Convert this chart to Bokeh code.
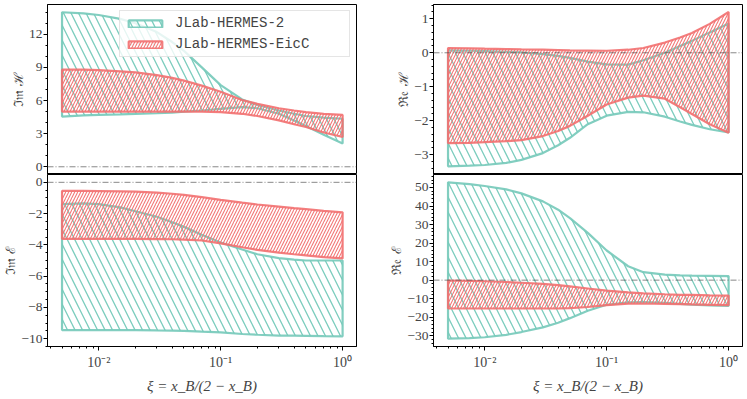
import numpy as np
from bokeh.plotting import figure
from bokeh.layouts import gridplot
from bokeh.models import Range1d, FixedTicker, Span, Legend, LegendItem
from bokeh.embed import file_html
from bokeh.resources import INLINE

# ---------------- data ----------------
xi = [0.005, 0.0075, 0.01, 0.015, 0.02, 0.03, 0.04, 0.05, 0.07, 0.1,
      0.15, 0.2, 0.3, 0.4, 0.5, 0.7, 1.0]

series_names = ["JLab-HERMES-2", "JLab-HERMES-EicC"]

# Im H
imH_h2_up = [14.0, 13.9, 13.75, 13.4, 13.0, 12.2, 11.3, 10.5, 9.0, 7.4,
             6.1, 5.6, 5.1, 4.8, 4.6, 4.45, 4.35]
imH_h2_lo = [4.55, 4.65, 4.7, 4.75, 4.8, 4.85, 4.9, 5.0, 5.1, 5.25,
             5.4, 5.3, 4.8, 4.2, 3.7, 2.9, 2.1]
imH_ec_up = [8.8, 8.8, 8.75, 8.65, 8.55, 8.3, 8.05, 7.8, 7.35, 6.8,
             6.05, 5.7, 5.3, 5.1, 4.95, 4.8, 4.7]
imH_ec_lo = [5.0, 5.0, 5.0, 5.0, 5.0, 5.0, 5.0, 5.0, 5.0, 4.95,
             4.8, 4.6, 4.2, 3.85, 3.6, 3.1, 2.7]

# Re H
reH_h2_up = [0.07, 0.06, 0.05, 0.03, 0.01, -0.04, -0.09, -0.15, -0.26, -0.34,
             -0.35, -0.22, 0.0, 0.2, 0.35, 0.6, 0.86]
reH_h2_lo = [-3.34, -3.32, -3.3, -3.24, -3.15, -2.95, -2.72, -2.5, -2.1, -1.85,
             -1.74, -1.75, -1.88, -2.02, -2.12, -2.25, -2.34]
reH_ec_up = [0.14, 0.13, 0.12, 0.11, 0.1, 0.09, 0.08, 0.07, 0.065, 0.06,
             0.09, 0.14, 0.3, 0.45, 0.58, 0.85, 1.2]
reH_ec_lo = [-2.66, -2.65, -2.63, -2.6, -2.57, -2.45, -2.3, -2.15, -1.85, -1.52,
             -1.32, -1.26, -1.35, -1.6, -1.8, -2.1, -2.35]

# Im E
imE_h2_up = [-1.4, -1.35, -1.4, -1.6, -1.85, -2.2, -2.55, -2.85, -3.35, -3.85,
             -4.3, -4.6, -4.85, -4.95, -5.0, -5.0, -5.0]
imE_h2_lo = [-9.45, -9.45, -9.45, -9.45, -9.45, -9.47, -9.48, -9.5, -9.55, -9.6,
             -9.7, -9.75, -9.8, -9.81, -9.82, -9.84, -9.85]
imE_ec_up = [-0.55, -0.55, -0.56, -0.58, -0.6, -0.66, -0.73, -0.8, -0.95, -1.12,
             -1.3, -1.42, -1.55, -1.65, -1.72, -1.83, -1.92]
imE_ec_lo = [-3.62, -3.62, -3.62, -3.62, -3.62, -3.63, -3.64, -3.66, -3.72, -3.9,
             -4.15, -4.32, -4.5, -4.6, -4.67, -4.78, -4.87]

# Re E
reE_h2_up = [52.8, 51.8, 50.8, 49.0, 46.8, 42.5, 38.0, 33.5, 25.5, 16.0,
             7.5, 4.3, 3.0, 2.6, 2.4, 2.3, 2.2]
reE_h2_lo = [-31.6, -31.3, -30.8, -29.5, -28.0, -25.5, -23.0, -20.5, -16.5, -13.3,
             -12.0, -11.8, -12.3, -12.8, -13.2, -13.6, -13.9]
reE_ec_up = [-0.2, -0.4, -0.6, -1.0, -1.4, -2.0, -2.7, -3.4, -4.5, -5.7,
             -6.6, -7.1, -7.6, -7.9, -8.0, -8.2, -8.3]
reE_ec_lo = [-15.3, -15.3, -15.3, -15.3, -15.3, -15.3, -15.3, -15.1, -14.5, -13.5,
             -12.7, -12.6, -12.8, -12.95, -13.1, -13.3, -13.5]

# ticks
x_ticks = [0.01, 0.1, 1.0]
x_tick_labels = ["10\u207b\u00b2", "10\u207b\u00b9", "10\u2070"]
imH_ticks = [0, 3, 6, 9, 12]
reH_ticks = [-3, -2, -1, 0, 1]
imE_ticks = [-10, -8, -6, -4, -2, 0]
reE_ticks = [-30, -20, -10, 0, 10, 20, 30, 40, 50]

y_labels = {"imH": "\u2111\U0001D52A \u210B", "reH": "\u211C\U0001D522 \u210B",
            "imE": "\u2111\U0001D52A \u2130", "reE": "\u211C\U0001D522 \u2130"}
x_label = "\u03be = x_B/(2 \u2212 x_B)"

# ---------------- style ----------------
TEAL = "#74c9b9"
RED = "#f27070"
SERIF = "Liberation Serif"
X_RANGE = (0.0038, 1.3)


def fmt(v):
    s = ("%g" % v)
    return s.replace("-", "\u2212")


def make_fig(width, height, yr, mbl, mbr, mbt, mbb, ticks, minor_step, ylab, bottom):
    p = figure(width=width, height=height, x_axis_type="log",
               x_range=Range1d(*X_RANGE), y_range=Range1d(*yr),
               output_backend="svg", toolbar_location=None,
               min_border_left=mbl, min_border_right=mbr,
               min_border_top=mbt, min_border_bottom=mbb)
    p.background_fill_color = "white"
    p.border_fill_color = "white"
    p.outline_line_color = "black"
    p.outline_line_alpha = 1.0
    p.outline_line_width = 1
    p.grid.visible = False

    lo, hi = yr
    minors = [float(v) for v in np.arange(np.ceil(lo / minor_step) * minor_step, hi, minor_step)]
    p.yaxis.ticker = FixedTicker(ticks=ticks, minor_ticks=minors)
    p.yaxis.major_label_overrides = {float(t): fmt(t) for t in ticks}
    p.yaxis.axis_label = ylab
    p.yaxis.axis_label_text_font = "DejaVu Serif"
    p.yaxis.axis_label_text_font_style = "normal"
    p.yaxis.axis_label_text_font_size = "13px"
    p.yaxis.axis_label_text_line_height = 0.8
    p.yaxis.axis_label_standoff = 0
    p.yaxis.major_label_text_font = SERIF
    p.yaxis.major_label_text_font_size = "13.5px"
    p.yaxis.major_label_standoff = 1
    p.yaxis.major_tick_out = 4
    p.yaxis.major_tick_in = 0
    p.yaxis.minor_tick_out = 2
    p.yaxis.minor_tick_in = 0
    p.yaxis.axis_line_color = "black"

    if bottom:
        xminor = [m * d for d in (0.001, 0.01, 0.1) for m in range(2, 10)]
        p.xaxis.ticker = FixedTicker(ticks=x_ticks, minor_ticks=xminor)
        p.xaxis.axis_line_color = "black"
        p.xaxis.major_label_overrides = {float(t): l for t, l in zip(x_ticks, x_tick_labels)}
        p.xaxis.major_label_text_font = SERIF
        p.xaxis.major_label_text_font_size = "14px"
        p.xaxis.major_label_standoff = 4
        p.xaxis.major_tick_out = 4
        p.xaxis.major_tick_in = 0
        p.xaxis.minor_tick_out = 2
        p.xaxis.minor_tick_in = 0
        p.xaxis.axis_label = x_label
        p.xaxis.axis_label_text_font = SERIF
        p.xaxis.axis_label_text_font_style = "italic"
        p.xaxis.axis_label_text_font_size = "15px"
        p.xaxis.axis_label_standoff = 5
    else:
        p.xaxis.visible = False

    p.add_layout(Span(location=0, dimension="width", line_color="#444444",
                      line_alpha=0.8, line_width=0.8, line_dash="6 2 1 2"))
    return p


def band(p, up, lo, color, pattern, scale, weight):
    xs = list(xi) + list(xi)[::-1]
    ys = list(up) + list(lo)[::-1]
    return p.patch(xs, ys, fill_color=None, hatch_pattern=pattern,
                   hatch_color=color, hatch_alpha=0.95, hatch_scale=scale,
                   hatch_weight=weight, line_color=color, line_width=2.2,
                   line_alpha=0.9)


LW, RW = 357, 390
TH, BH = 174, 225

p1 = make_fig(LW, TH, (-0.7, 14.7), 40, 1, 4, 0, imH_ticks, 1, y_labels["imH"], False)
p2 = make_fig(RW, TH, (-3.58, 1.42), 76, 5, 4, 0, reH_ticks, 0.2, y_labels["reH"], False)
p3 = make_fig(LW, BH, (-10.5, 0.5), 40, 1, 0, 53, imE_ticks, 0.5, y_labels["imE"], True)
p4 = make_fig(RW, BH, (-35.8, 57.0), 76, 5, 0, 53, reE_ticks, 2, y_labels["reE"], True)

r1a = band(p1, imH_h2_up, imH_h2_lo, TEAL, "\\", 15, 1.3)
r1b = band(p1, imH_ec_up, imH_ec_lo, RED, "/", 6, 1.1)
band(p2, reH_h2_up, reH_h2_lo, TEAL, "\\", 15, 1.3)
band(p2, reH_ec_up, reH_ec_lo, RED, "/", 6, 1.1)
band(p3, imE_h2_up, imE_h2_lo, TEAL, "\\", 15, 1.3)
band(p3, imE_ec_up, imE_ec_lo, RED, "/", 6, 1.1)
band(p4, reE_h2_up, reE_h2_lo, TEAL, "\\", 15, 1.3)
band(p4, reE_ec_up, reE_ec_lo, RED, "/", 6, 1.1)

legend = Legend(items=[LegendItem(label=series_names[0], renderers=[r1a]),
                       LegendItem(label=series_names[1], renderers=[r1b])],
                location="top_right", margin=6, padding=4, spacing=5,
                glyph_width=42, glyph_height=9, label_height=16,
                label_standoff=9, label_width=170,
                label_text_font="Liberation Mono", label_text_font_size="14px",
                border_line_color="#cccccc", border_line_width=1,
                background_fill_color="white", background_fill_alpha=0.8)
p1.add_layout(legend)

grid = gridplot([[p1, p2], [p3, p4]], toolbar_location=None)

open("out.html", "w").write(file_html(grid, INLINE))
